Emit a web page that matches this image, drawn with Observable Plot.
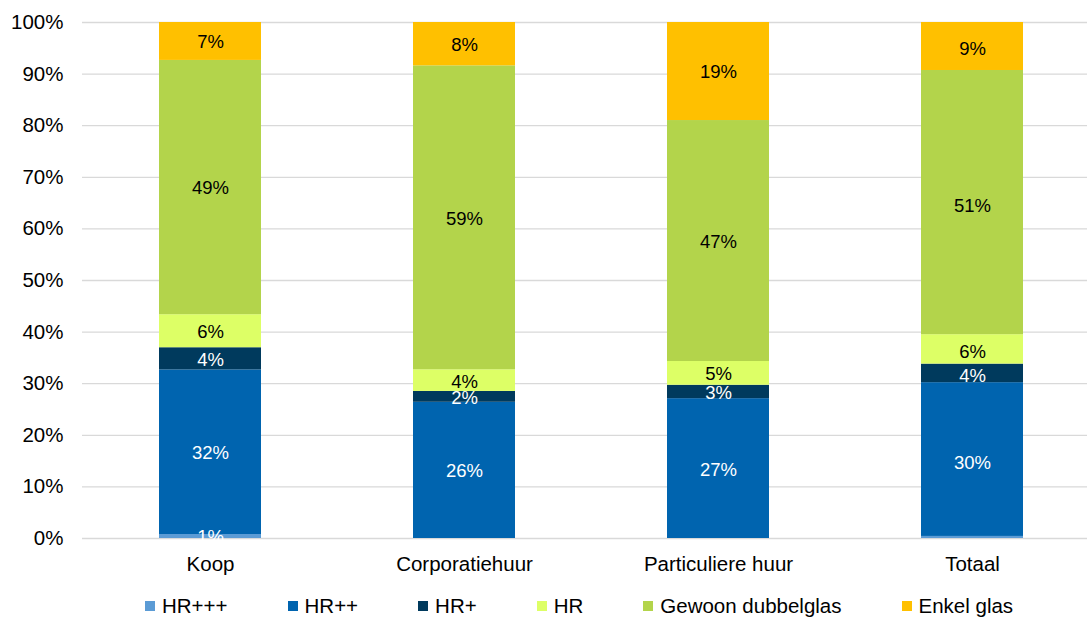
<!DOCTYPE html>
<html>
<head>
<meta charset="utf-8">
<script src="https://cdn.jsdelivr.net/npm/d3@7"></script>
<script src="https://cdn.jsdelivr.net/npm/@observablehq/plot@0.6"></script>
<style>
  html, body { margin: 0; padding: 0; background: #fff; }
  body { width: 1087px; height: 617px; overflow: hidden; font-family: "Liberation Sans", Arial, sans-serif; }
  #legend { display: flex; align-items: center; height: 22px; padding-top: 10px; padding-left: 145px; gap: 60px; font-size: 20.5px; color: #000; }
  #legend .item { display: flex; align-items: center; white-space: nowrap; }
  #legend .sw { width: 10px; height: 10px; margin-right: 7px; }
</style>
</head>
<body>
<div id="chart"></div>
<div id="legend"></div>
<script>
const categories = ["Koop", "Corporatiehuur", "Particuliere huur", "Totaal"];
const series = ["HR+++", "HR++", "HR+", "HR", "Gewoon dubbelglas", "Enkel glas"];
const colors = ["#5B9BD5", "#0064AF", "#003A5D", "#DDFF66", "#B3D44B", "#FFC000"];
const labelColors = ["#fff", "#fff", "#fff", "#000", "#000", "#000"];
// values per series, in category order (percent)
const hrPlusPlusPlus = [0.77, 0, 0, 0.4];
const hrPlusPlus = [31.9, 26.4, 27.1, 29.8];
const hrPlus = [4.3, 2.1, 2.6, 3.6];
const hr = [6.4, 4.2, 4.6, 5.7];
const gewoonDubbelglas = [49.28, 58.9, 46.7, 51.2];
const enkelGlas = [7.35, 8.4, 19.0, 9.3];
const yTicks = [0, 10, 20, 30, 40, 50, 60, 70, 80, 90, 100];

const seriesValues = [hrPlusPlusPlus, hrPlusPlus, hrPlus, hr, gewoonDubbelglas, enkelGlas];
const data = [];
series.forEach((s, i) => {
  categories.forEach((c, j) => {
    data.push({category: c, series: s, value: seriesValues[i][j], labelColor: labelColors[i]});
  });
});

const W = 1087, H = 585;
const chart = Plot.plot({
  width: W,
  height: H,
  marginLeft: 82,
  marginRight: 0,
  marginTop: 22,
  marginBottom: 47,
  style: {fontFamily: '"Liberation Sans", Arial, sans-serif', fontSize: "20px", color: "#000", background: "#fff"},
  x: {domain: categories, range: [82.3, 1099.9], paddingInner: 0.6, paddingOuter: 0.3, label: null},
  y: {domain: [0, 100], label: null},
  color: {domain: series, range: colors},
  marks: [
    Plot.ruleY(yTicks, {stroke: "#d9d9d9", strokeWidth: 1.3}),
    Plot.barY(data, {x: "category", y: "value", fill: "series", order: null}),
    Plot.text(data.filter(d => d.value >= 0.5), Plot.stackY({
      x: "category", y: "value", z: "series", order: null,
      text: d => Math.round(d.value) + "%",
      fill: "labelColor", fontSize: 18.5, dy: 1
    })),
    Plot.axisY({ticks: yTicks, tickSize: 0, tickPadding: 19, tickFormat: d => d + "%", fontSize: 20.5}),
    Plot.axisX({tickSize: 0, tickPadding: 18, fontSize: 20.5})
  ]
});
document.getElementById("chart").appendChild(chart);

const legend = document.getElementById("legend");
series.forEach((s, i) => {
  const item = document.createElement("div");
  item.className = "item";
  const sw = document.createElement("span");
  sw.className = "sw";
  sw.style.background = colors[i];
  item.appendChild(sw);
  item.appendChild(document.createTextNode(s));
  legend.appendChild(item);
});
</script>
</body>
</html>
